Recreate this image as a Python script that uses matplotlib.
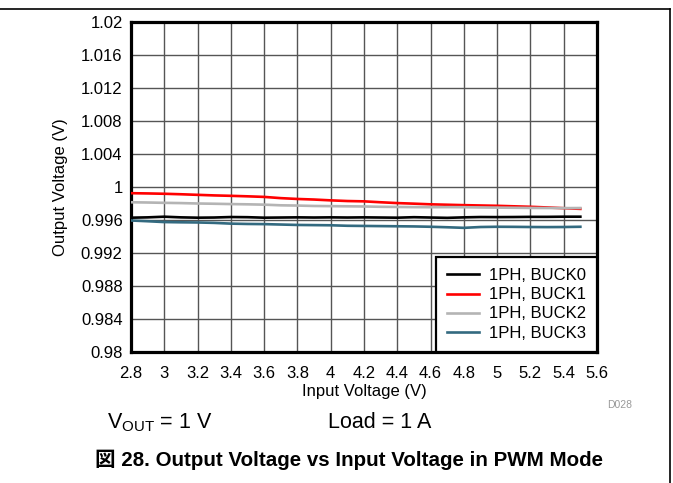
import numpy as np
import matplotlib.pyplot as plt
from matplotlib.lines import Line2D

# input voltage sweep (V)
vin = [2.8, 2.9, 3.0, 3.1, 3.2, 3.3, 3.4, 3.5, 3.6, 3.7, 3.8, 3.9, 4.0, 4.1,
       4.2, 4.3, 4.4, 4.5, 4.6, 4.7, 4.8, 4.9, 5.0, 5.1, 5.2, 5.3, 5.4, 5.5]

# output voltage per buck (V)
buck0 = [0.99628, 0.99632, 0.99640, 0.99632, 0.99628, 0.99630, 0.99636, 0.99634,
         0.99628, 0.99630, 0.99632, 0.99630, 0.99632, 0.99630, 0.99632, 0.99630,
         0.99628, 0.99634, 0.99630, 0.99626, 0.99632, 0.99636, 0.99635, 0.99636,
         0.99638, 0.99638, 0.99640, 0.99640]
buck1 = [0.99925, 0.99922, 0.99918, 0.99912, 0.99905, 0.99898, 0.99893, 0.99887,
         0.99880, 0.99865, 0.99855, 0.99848, 0.99838, 0.99830, 0.99826, 0.99815,
         0.99805, 0.99798, 0.99790, 0.99785, 0.99780, 0.99776, 0.99772, 0.99766,
         0.99760, 0.99752, 0.99743, 0.99735]
buck2 = [0.99815, 0.99812, 0.99808, 0.99805, 0.99800, 0.99797, 0.99793, 0.99790,
         0.99786, 0.99778, 0.99775, 0.99770, 0.99768, 0.99766, 0.99764, 0.99760,
         0.99758, 0.99756, 0.99755, 0.99756, 0.99755, 0.99752, 0.99750, 0.99748,
         0.99746, 0.99745, 0.99744, 0.99745]
buck3 = [0.99594, 0.99585, 0.99575, 0.99572, 0.99570, 0.99565, 0.99556, 0.99552,
         0.99550, 0.99545, 0.99540, 0.99538, 0.99536, 0.99530, 0.99528, 0.99526,
         0.99524, 0.99522, 0.99518, 0.99512, 0.99505, 0.99515, 0.99518, 0.99517,
         0.99515, 0.99514, 0.99515, 0.99518]

labels = ['1PH, BUCK0', '1PH, BUCK1', '1PH, BUCK2', '1PH, BUCK3']
colors = ['#000000', '#ff0000', '#b4b4b4', '#336a80']

xticks = [2.8, 3.0, 3.2, 3.4, 3.6, 3.8, 4.0, 4.2, 4.4, 4.6, 4.8, 5.0, 5.2, 5.4, 5.6]
xticklabels = ['2.8', '3', '3.2', '3.4', '3.6', '3.8', '4', '4.2', '4.4', '4.6',
               '4.8', '5', '5.2', '5.4', '5.6']
yticks = [0.98, 0.984, 0.988, 0.992, 0.996, 1.0, 1.004, 1.008, 1.012, 1.016, 1.02]
yticklabels = ['0.98', '0.984', '0.988', '0.992', '0.996', '1', '1.004', '1.008',
               '1.012', '1.016', '1.02']

plt.rcParams['font.family'] = ['Liberation Sans', 'Noto Sans CJK JP']

W, H = 673, 483
fig = plt.figure(figsize=(W/100, H/100), dpi=100)
ax = fig.add_axes([131/W, 1-352/H, 466/W, 330/H])

for ys, lab, col in zip([buck0, buck1, buck2, buck3], labels, colors):
    ax.plot(vin, ys, color=col, lw=1.9, label=lab, zorder=3)

ax.set_xlim(2.8, 5.6)
ax.set_ylim(0.98, 1.02)
ax.set_xticks(xticks)
ax.set_xticklabels(xticklabels)
ax.set_yticks(yticks)
ax.set_yticklabels(yticklabels)
ax.tick_params(length=0, labelsize=12, pad=6)
ax.tick_params(axis='x', pad=10)
ax.grid(True, color='#555555', lw=1)
for s in ax.spines.values():
    s.set_linewidth(2.3)

ax.set_xlabel('Input Voltage (V)', fontsize=12, labelpad=2)
ax.yaxis.set_label_coords(-0.135, 0.5)
ax.set_ylabel('Output Voltage (V)', fontsize=12)

leg = ax.legend(loc='lower right', fontsize=12, frameon=True, fancybox=False,
                borderaxespad=0, handlelength=1.9, labelspacing=0.25,
                borderpad=0.68, handletextpad=0.6)
leg.get_frame().set_edgecolor('black')
leg.get_frame().set_linewidth(1.6)
leg.get_frame().set_alpha(1)

fig.text(620/W, 1-405/H, 'D028', fontsize=7.5, color='#999999', ha='center', va='center')
fig.text(107/W, 1-423/H, r'V$_{\mathregular{OUT}}$ = 1 V', fontsize=15.5, va='center')
fig.text(328/W, 1-423/H, 'Load = 1 A', fontsize=15.5, va='center')
fig.text(95/W, 1-460/H, '図 28. Output Voltage vs Input Voltage in PWM Mode',
         fontsize=14.8, fontweight='bold', va='center')

# page frame lines
fig.add_artist(Line2D([0, 670/W], [1-9/H, 1-9/H], color='black', lw=1.2))
fig.add_artist(Line2D([670/W, 670/W], [0, 1-9/H], color='black', lw=1.2))

fig.savefig('out.png', dpi=100)
